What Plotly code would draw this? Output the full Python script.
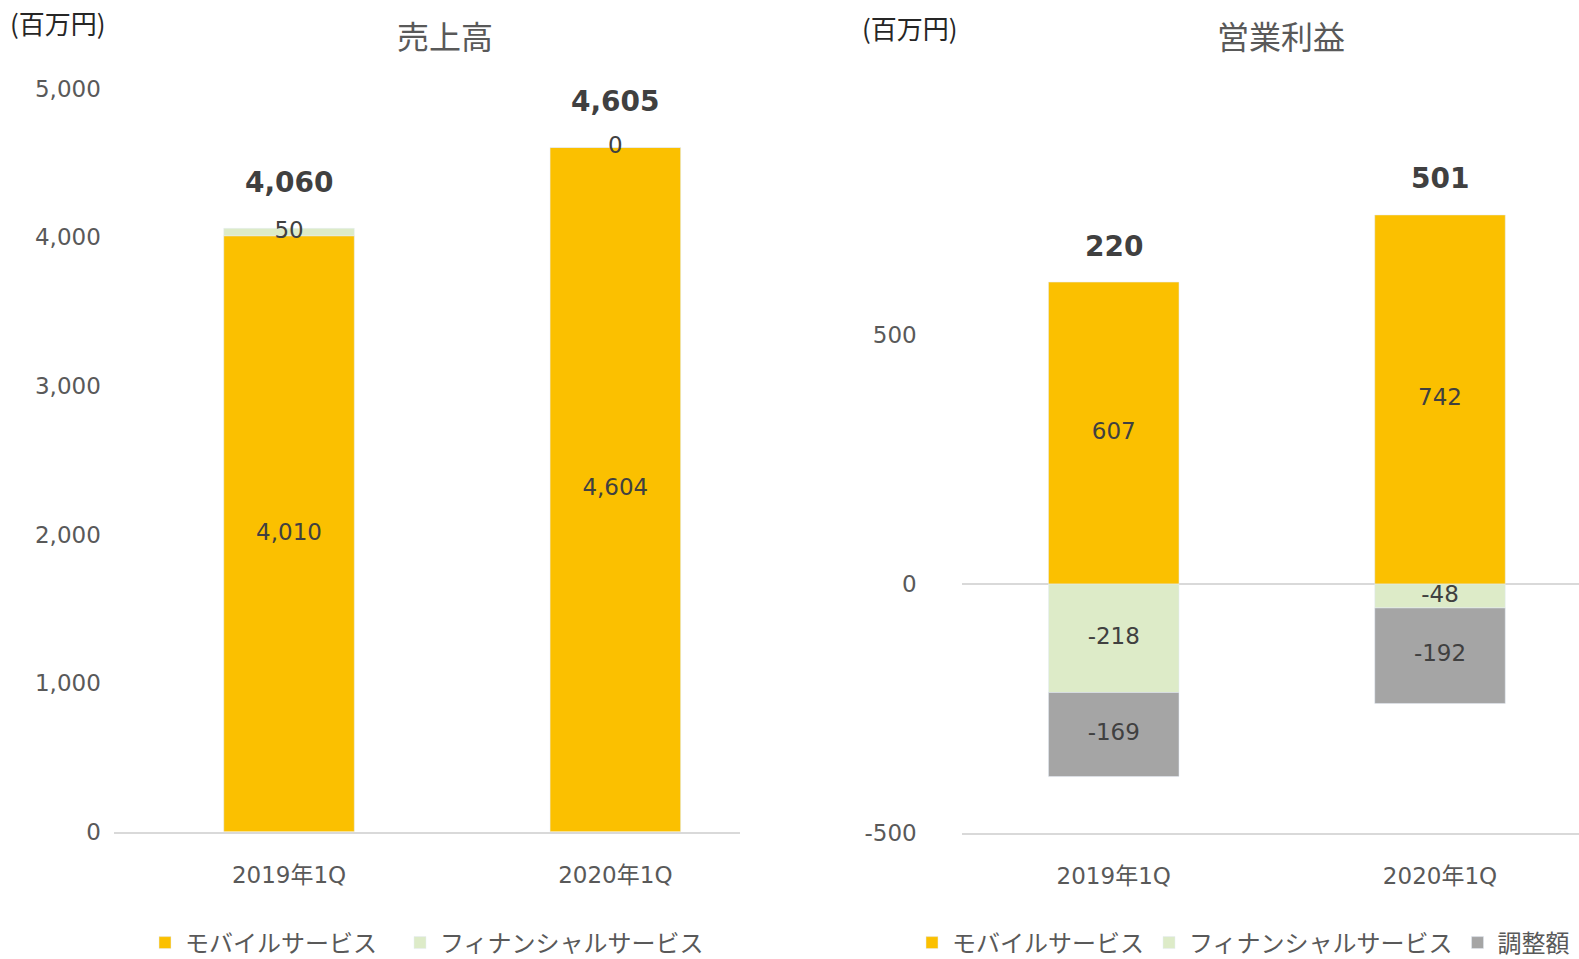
import plotly.graph_objects as go

categories = ["2019年1Q", "2020年1Q"]

# 売上高 (百万円)
sales_mobile = [4010, 4604]
sales_finance = [50, 0]
sales_totals = [4060, 4605]

# 営業利益 (百万円)
op_mobile = [607, 742]
op_finance = [-218, -48]
op_adjust = [-169, -192]
op_totals = [220, 501]

series_names = ["モバイルサービス", "フィナンシャルサービス", "調整額"]
colors = ["#FBC000", "#DDEBC8", "#A5A5A5"]

sales_ticks = [0, 1000, 2000, 3000, 4000, 5000]
op_ticks = [-500, 0, 500]

W, H = 1579, 959
NUM_FONT = "DejaVu Sans, Noto Sans CJK JP"
JP_FONT = "Noto Sans CJK JP, DejaVu Sans"
LABEL_COLOR = "#404040"
TICK_COLOR = "#595959"
BAR_W = 0.40


def py(p):
    return 1 - p / H


fig = go.Figure()

# ---- left: sales ----
left_series = [sales_mobile, sales_finance]
left_widths = [210, None]
for i, vals in enumerate(left_series):
    fig.add_trace(go.Bar(
        x=categories, y=vals, name=series_names[i], marker_color=colors[i],
        width=BAR_W, xaxis="x", yaxis="y", legend="legend",
        legendwidth=left_widths[i], textposition="none", hoverinfo="skip",
    ))

lx, ly, lt = [], [], []
for j, c in enumerate(categories):
    base = 0
    for vals in left_series:
        v = vals[j]
        lx.append(c)
        ly.append(base + v / 2)
        lt.append(f"{v:,}")
        base += v
fig.add_trace(go.Scatter(
    x=lx, y=ly, text=lt, mode="text", textposition="middle center",
    textfont=dict(family=NUM_FONT, size=23, color=LABEL_COLOR),
    xaxis="x", yaxis="y", showlegend=False, hoverinfo="skip",
))

# ---- right: operating income ----
right_series = [op_mobile, op_finance, op_adjust]
for i, vals in enumerate(right_series):
    fig.add_trace(go.Bar(
        x=categories, y=vals, name=series_names[i], marker_color=colors[i],
        width=BAR_W, xaxis="x2", yaxis="y2", legend="legend2",
        textposition="none", hoverinfo="skip",
    ))

rx, ry, rt = [], [], []
for j, c in enumerate(categories):
    pos, neg = 0, 0
    for vals in right_series:
        v = vals[j]
        if v >= 0:
            ry.append(pos + v / 2)
            pos += v
        else:
            ry.append(neg + v / 2)
            neg += v
        rx.append(c)
        rt.append(f"{v:,}")
fig.add_trace(go.Scatter(
    x=rx, y=ry, text=rt, mode="text", textposition="middle center",
    textfont=dict(family=NUM_FONT, size=23, color=LABEL_COLOR),
    xaxis="x2", yaxis="y2", showlegend=False, hoverinfo="skip",
))

annotations = []
for j, c in enumerate(categories):
    top = sum(max(0, s[j]) for s in left_series)
    annotations.append(dict(
        x=c, y=top, xref="x", yref="y", text=f"<b>{sales_totals[j]:,}</b>",
        showarrow=False, yshift=46, yanchor="middle",
        font=dict(family=NUM_FONT, size=28, color=LABEL_COLOR),
    ))
    top2 = sum(max(0, s[j]) for s in right_series)
    annotations.append(dict(
        x=c, y=top2, xref="x2", yref="y2", text=f"<b>{op_totals[j]:,}</b>",
        showarrow=False, yshift=36, yanchor="middle",
        font=dict(family=NUM_FONT, size=28, color=LABEL_COLOR),
    ))

annotations += [
    dict(x=445 / W, y=py(35), xref="paper", yref="paper", text="売上高",
         showarrow=False, xanchor="center", yanchor="middle",
         font=dict(family=JP_FONT, size=32, color=TICK_COLOR)),
    dict(x=1281 / W, y=py(35), xref="paper", yref="paper", text="営業利益",
         showarrow=False, xanchor="center", yanchor="middle",
         font=dict(family=JP_FONT, size=32, color=TICK_COLOR)),
    dict(x=8 / W, y=py(23), xref="paper", yref="paper", text="(百万円)",
         showarrow=False, xanchor="left", yanchor="middle",
         font=dict(family=JP_FONT, size=26, color="#262626")),
    dict(x=860 / W, y=py(28), xref="paper", yref="paper", text="(百万円)",
         showarrow=False, xanchor="left", yanchor="middle",
         font=dict(family=JP_FONT, size=26, color="#262626")),
]

axis_line = "#D9D9D9"
tickfont = dict(family=NUM_FONT, size=23, color=TICK_COLOR)
catfont = dict(family=NUM_FONT, size=23, color=TICK_COLOR)

fig.update_layout(
    width=W, height=H, autosize=False,
    margin=dict(l=0, r=0, t=0, b=0, autoexpand=False),
    paper_bgcolor="white", plot_bgcolor="white",
    barmode="relative", showlegend=True,
    xaxis=dict(domain=[113.8 / W, 740 / W], anchor="y", type="category",
               range=[-0.537, 1.382], showgrid=False, zeroline=False,
               showline=True, linecolor=axis_line, linewidth=2,
               ticks="", tickfont=catfont, ticklabelstandoff=22),
    yaxis=dict(domain=[py(831.8), py(88.6)], anchor="x", range=[0, 5000],
               tickvals=sales_ticks, ticktext=[f"{v:,}" for v in sales_ticks],
               showgrid=False, zeroline=False, showline=False, ticks="",
               tickfont=tickfont, ticklabelstandoff=12),
    xaxis2=dict(domain=[961.7 / W, 1.0], anchor="y2", type="category",
                range=[-0.466, 1.426], showgrid=False, zeroline=False,
                showline=True, linecolor=axis_line, linewidth=2,
                ticks="", tickfont=catfont, ticklabelstandoff=22),
    yaxis2=dict(domain=[py(832.8), py(86.6)], anchor="x2", range=[-500, 1000],
                tickvals=op_ticks, ticktext=[f"{v:,}" for v in op_ticks],
                showgrid=False, zeroline=True, zerolinecolor=axis_line,
                zerolinewidth=2, showline=False, ticks="",
                tickfont=tickfont, ticklabelstandoff=44),
    legend=dict(orientation="h", x=145 / W, xanchor="left", y=py(943),
                yanchor="middle", traceorder="normal", bgcolor="rgba(0,0,0,0)",
                font=dict(family=JP_FONT, size=24, color=TICK_COLOR)),
    legend2=dict(orientation="h", x=912 / W, xanchor="left", y=py(943),
                 yanchor="middle", traceorder="normal", bgcolor="rgba(0,0,0,0)",
                 font=dict(family=JP_FONT, size=24, color=TICK_COLOR)),
    annotations=annotations,
)

fig.write_html("out.html", config={"displayModeBar": False})
